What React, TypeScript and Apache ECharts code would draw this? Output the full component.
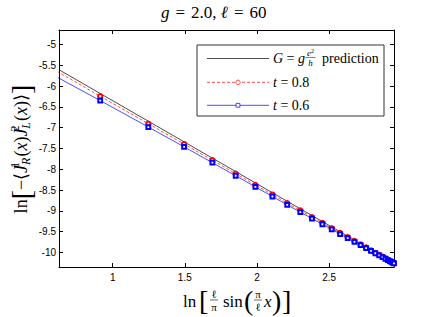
import React, { useEffect, useRef } from "react";
import * as echarts from "echarts";

// x = ln[(l/pi) sin(pi x / l)] for x = 1.5 ... 29.5, l = 60
const xPts = [
  0.4045, 0.9135, 1.2472, 1.4949, 1.691, 1.8525, 1.9891, 2.1069, 2.2098, 2.3006,
  2.3813, 2.4534, 2.5181, 2.5762, 2.6286, 2.6758, 2.7182, 2.7563, 2.7903, 2.8205,
  2.8472, 2.8705, 2.8906, 2.9077, 2.9217, 2.9328, 2.9411, 2.9466, 2.9494,
];
// t = 0.8
const redY = [
  -5.224, -6.242, -6.904, -7.395, -7.782, -8.105, -8.378, -8.609, -8.815, -8.991,
  -9.153, -9.292, -9.421, -9.532, -9.637, -9.727, -9.811, -9.883, -9.951, -10.011,
  -10.059, -10.106, -10.146, -10.177, -10.205, -10.226, -10.242, -10.253, -10.259,
];
// t = 0.6
const blueY = [
  -5.389, -6.347, -6.984, -7.46, -7.842, -8.155, -8.423, -8.654, -8.855, -9.031,
  -9.185, -9.322, -9.446, -9.557, -9.657, -9.747, -9.826, -9.898, -9.961, -10.019,
  -10.069, -10.113, -10.151, -10.183, -10.209, -10.231, -10.246, -10.256, -10.262,
];
// prediction line G = g e^2/h
const predX = [0.628, 2.9497];
const predY = [-5.606, -10.249];

const X_MIN = 0.628;
const X_MAX = 2.9497;
const Y_MIN = -10.35;
const Y_MAX = -4.65;

const seriesNames = ["G = g e²/h prediction", "t = 0.8", "t = 0.6"];

const SERIF = "Liberation Serif";
const SANS = "Liberation Sans";

export default function App() {
  const ref = useRef<HTMLDivElement>(null);
  useEffect(() => {
    if (!ref.current) return;
    const chart = echarts.init(ref.current, undefined, { renderer: "svg" });

    const axisLine = { show: true, onZero: false, lineStyle: { color: "#000", width: 1 } };
    const axisTick = { show: true, inside: true, length: 4, lineStyle: { color: "#000", width: 1 } };
    const label = {
      color: "#000",
      fontSize: 10,
      fontFamily: SANS,
      showMinLabel: false,
      showMaxLabel: false,
    };

    const rt = (size: number) => ({
      t: { fontFamily: SERIF, fontSize: size, fill: "#000", color: "#000" },
      i: { fontFamily: SERIF, fontSize: size, fontStyle: "italic", color: "#000" },
    });
    const txt = (x: number, y: number, s: string, size: number, extra: any = {}) => ({
      type: "text", x, y,
      style: {
        text: s, fontFamily: SERIF, fontSize: size, fill: "#000", verticalAlign: "middle",
        rich: rt(size), ...extra,
      },
    });

    const option: any = {
      animation: false,
      backgroundColor: "#fff",
      grid: { left: 59, right: 42, top: 30, bottom: 50, containLabel: false },
      xAxis: [
        {
          type: "value", position: "bottom", min: X_MIN, max: X_MAX, splitNumber: 5,
          axisLine, axisTick, splitLine: { show: false },
          axisLabel: { ...label, margin: 5 },
        },
        {
          type: "value", position: "top", min: X_MIN, max: X_MAX, splitNumber: 5,
          axisLine, axisTick, splitLine: { show: false }, axisLabel: { show: false },
        },
      ],
      yAxis: [
        {
          type: "value", position: "left", min: Y_MIN, max: Y_MAX, splitNumber: 11,
          axisLine, axisTick, splitLine: { show: false },
          axisLabel: { ...label, margin: 3 },
        },
        {
          type: "value", position: "right", min: Y_MIN, max: Y_MAX, splitNumber: 11,
          axisLine, axisTick, splitLine: { show: false }, axisLabel: { show: false },
        },
      ],
      series: [
        {
          name: seriesNames[0], type: "line", xAxisIndex: 0, yAxisIndex: 0,
          data: predX.map((x, i) => [x, predY[i]]),
          symbol: "none", lineStyle: { color: "#000", width: 0.7 },
        },
        {
          name: seriesNames[1], type: "line", xAxisIndex: 0, yAxisIndex: 0,
          data: xPts.map((x, i) => [x, redY[i]]),
          symbol: "emptyCircle", symbolSize: 4.4, showAllSymbol: true,
          lineStyle: { color: "#ff0000", width: 0.7, type: [3, 2] },
          itemStyle: { color: "#ff0000", borderWidth: 0.7 },
        },
        {
          name: seriesNames[2], type: "line", xAxisIndex: 0, yAxisIndex: 0,
          data: xPts.map((x, i) => [x, blueY[i]]),
          symbol: "emptyRect", symbolSize: 3.8, showAllSymbol: true,
          lineStyle: { color: "#0000ff", width: 0.7 },
          itemStyle: { color: "#0000ff", borderWidth: 0.7 },
        },
      ],
      graphic: [
        // title
        {
          type: "text", left: 161, top: 4,
          style: {
            text: "{i|g}{e|=}{t|2.0, }{i|ℓ}{e|=}{t|60}",
            fontFamily: SERIF, fontSize: 17, fill: "#000",
            rich: {
              ...rt(17),
              e: { fontFamily: SERIF, fontSize: 17, padding: [0, 6] },
            },
          },
        },
        // y axis name
        {
          type: "group", x: 21, y: 149, rotation: Math.PI / 2,
          children: [
            {
              type: "text",
              style: {
                text: "{t|ln}{b|[}{t|−⟨}{i|J}{sp|1}{sb|R}{t|(}{i|x}{t|)}{i|J}{sp|2}{sb|L}{t|(}{i|x}{t|)⟩}{b|]}",
                align: "center", verticalAlign: "middle", fill: "#000",
                fontFamily: SERIF, fontSize: 18,
                rich: {
                  ...rt(18),
                  b: { fontFamily: SERIF, fontSize: 28 },
                  sp: { fontFamily: SERIF, fontSize: 12, width: 0, padding: [0, 0, 12, 0] },
                  sb: { fontFamily: SERIF, fontSize: 12, fontStyle: "italic", padding: [9, 1, 0, 0] },
                },
              },
            },
          ],
        },
        // x axis name
        {
          type: "group", x: 183, y: 300,
          children: [
            txt(0, 1, "{t|ln}", 17),
            txt(16, 0, "{t|[}", 28),
            txt(31, -6, "{t|ℓ}", 11, { align: "center" }),
            { type: "line", shape: { x1: 27, y1: 0, x2: 35, y2: 0 }, style: { stroke: "#000", lineWidth: 0.6 } },
            txt(31, 7, "{t|π}", 11, { align: "center" }),
            txt(40, 1, "{t|sin}", 17),
            txt(61, 0, "{t|(}", 28),
            txt(75, -6, "{t|π}", 11, { align: "center" }),
            { type: "line", shape: { x1: 71, y1: 0, x2: 79, y2: 0 }, style: { stroke: "#000", lineWidth: 0.6 } },
            txt(75, 7, "{t|ℓ}", 11, { align: "center" }),
            txt(81, 1, "{i|x}", 17),
            txt(89, 0, "{t|)}", 28),
            txt(99, 0, "{t|]}", 28),
          ],
        },
        // legend
        {
          type: "group", x: 0, y: 0,
          children: [
            { type: "rect", shape: { x: 197, y: 45, width: 187, height: 71 }, style: { fill: "#fff", stroke: "#333", lineWidth: 1 } },
            { type: "line", shape: { x1: 207, y1: 58.5, x2: 269, y2: 58.5 }, style: { stroke: "#000", lineWidth: 0.7 } },
            txt(273, 58.5, "{i|G}{t| = }{i|g}", 14),
            txt(310.5, 53, "{i|e}{s|2}", 9, { align: "center", rich: { ...rt(9), s: { fontFamily: SERIF, fontSize: 6, padding: [0, 0, 5, 0] } } }),
            { type: "line", shape: { x1: 305.5, y1: 57.5, x2: 315.5, y2: 57.5 }, style: { stroke: "#000", lineWidth: 0.5 } },
            txt(310.5, 63, "{i|h}", 9, { align: "center" }),
            txt(322, 58.5, "{t|prediction}", 14),

            { type: "line", shape: { x1: 207, y1: 82.3, x2: 269, y2: 82.3 }, style: { stroke: "#ff0000", lineWidth: 0.7, lineDash: [3, 2] } },
            { type: "circle", shape: { cx: 238, cy: 82.3, r: 2.2 }, style: { fill: "#fff", stroke: "#ff0000", lineWidth: 0.7 } },
            txt(273, 82.3, "{i|t}{t| = 0.8}", 14),

            { type: "line", shape: { x1: 207, y1: 105.3, x2: 269, y2: 105.3 }, style: { stroke: "#0000ff", lineWidth: 0.7 } },
            { type: "rect", shape: { x: 236.1, y: 103.4, width: 3.8, height: 3.8 }, style: { fill: "#fff", stroke: "#0000ff", lineWidth: 0.7 } },
            txt(273, 105.3, "{i|t}{t| = 0.6}", 14),
          ],
        },
      ],
    };
    chart.setOption(option);
    return () => chart.dispose();
  }, []);

  return (
    <div
      ref={ref}
      style={{ position: "absolute", left: 0, top: 0, width: 436, height: 317, background: "#fff" }}
    />
  );
}
